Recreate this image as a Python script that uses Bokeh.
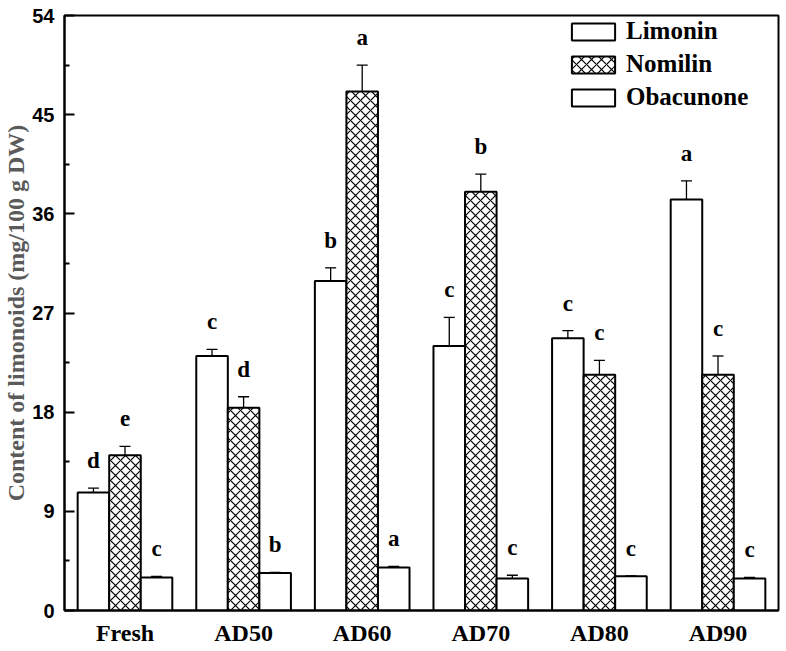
from bokeh.plotting import figure
from bokeh.models import (ColumnDataSource, Range1d, FixedTicker, Whisker, TeeHead,
                          Legend, LegendItem)
from bokeh.core.properties import value
from bokeh.embed import file_html
from bokeh.resources import INLINE

groups = ["Fresh", "AD50", "AD60", "AD70", "AD80", "AD90"]
limonin = [10.7, 23.1, 29.9, 24.0, 24.7, 37.3]
limonin_err = [0.4, 0.6, 1.2, 2.6, 0.7, 1.7]
limonin_sig = ["d", "c", "b", "c", "c", "a"]
nomilin = [14.1, 18.4, 47.1, 38.0, 21.4, 21.4]
nomilin_err = [0.8, 1.0, 2.4, 1.6, 1.3, 1.7]
nomilin_sig = ["e", "d", "a", "b", "c", "c"]
obacunone = [3.0, 3.4, 3.9, 2.9, 3.1, 2.9]
obacunone_err = [0.1, 0.05, 0.1, 0.3, 0.05, 0.1]
obacunone_sig = ["c", "b", "a", "c", "c", "c"]
y_ticks = [0, 9, 18, 27, 36, 45, 54]

SERIF = value("Liberation Serif")
bw = 0.266
offsets = [-bw, 0.0, bw]

p = figure(frame_width=714, frame_height=595, output_backend="svg", toolbar_location=None,
           x_range=Range1d(-0.51, 5.51), y_range=Range1d(0, 54),
           min_border_left=60, min_border_top=15, min_border_right=2, min_border_bottom=0)
p.background_fill_color = "white"
p.border_fill_color = "white"
p.grid.visible = False
p.outline_line_color = "black"
p.outline_line_width = 2

series = [
    ("Limonin", limonin, limonin_err, limonin_sig, None),
    ("Nomilin", nomilin, nomilin_err, nomilin_sig, "diagonal_cross"),
    ("Obacunone", obacunone, obacunone_err, obacunone_sig, None),
]

items = []
for (name, vals, errs, sig, hatch), off in zip(series, offsets):
    xs = [i + off for i in range(len(groups))]
    src = ColumnDataSource(dict(
        x=xs, top=vals,
        upper=[v + e for v, e in zip(vals, errs)],
        lower=[v - e for v, e in zip(vals, errs)],
        ly=[v + e + 2.5 for v, e in zip(vals, errs)],
        sig=sig))
    kw = {}
    if hatch:
        kw = dict(hatch_pattern=hatch, hatch_color="black", hatch_weight=1.2, hatch_scale=10)
    r = p.vbar(x="x", top="top", width=bw, bottom=0, source=src,
               fill_color="white", line_color="black", line_width=2, **kw)
    items.append(LegendItem(label=name, renderers=[r]))
    w = Whisker(base="x", upper="upper", lower="lower", source=src, dimension="height",
                line_color="black", line_width=1.3,
                upper_head=TeeHead(size=11, line_width=1.3, line_color="black"),
                lower_head=TeeHead(size=11, line_width=1.3, line_color="black"))
    p.add_layout(w)
    p.text(x="x", y="ly", text="sig", source=src, text_font=SERIF, text_font_style="bold",
           text_font_size="23px", text_align="center", text_baseline="middle", text_color="black")

legend = Legend(items=items, location=(502, 499), orientation="vertical",
                glyph_width=54, glyph_height=21, label_height=21, spacing=5,
                padding=0, margin=0, label_standoff=6,
                label_text_font="Liberation Serif", label_text_font_style="bold",
                label_text_font_size="25px", label_text_color="black",
                border_line_alpha=0, background_fill_alpha=0)
p.add_layout(legend)

# y axis
ya = p.yaxis[0]
ya.ticker = FixedTicker(ticks=y_ticks, minor_ticks=[t + 4.5 for t in y_ticks[:-1]])
ya.axis_label = "Content of limonoids (mg/100 g DW)"
ya.axis_label_text_font = "Liberation Serif"
ya.axis_label_text_font_style = "bold"
ya.axis_label_text_font_size = "24px"
ya.axis_label_text_color = "#5a5a5a"
ya.axis_label_standoff = 0
ya.major_label_text_font = "Liberation Sans"
ya.major_label_text_font_style = "bold"
ya.major_label_text_font_size = "20px"
ya.major_label_text_color = "black"
ya.major_label_standoff = 10
ya.axis_line_width = 2
ya.axis_line_color = "black"
ya.major_tick_in = 10
ya.major_tick_out = 0
ya.minor_tick_in = 5
ya.minor_tick_out = 0
ya.major_tick_line_width = 2
ya.minor_tick_line_width = 2

# x axis
xa = p.xaxis[0]
xa.ticker = FixedTicker(ticks=list(range(len(groups))))
xa.major_label_overrides = {i: g for i, g in enumerate(groups)}
xa.major_label_text_font = "Liberation Serif"
xa.major_label_text_font_style = "bold"
xa.major_label_text_font_size = "24px"
xa.major_label_text_color = "black"
xa.major_label_standoff = 9
xa.major_tick_in = 0
xa.major_tick_out = 0
xa.minor_tick_line_color = None
xa.axis_line_width = 2
xa.axis_line_color = "black"

open("out.html", "w").write(file_html(p, INLINE))
